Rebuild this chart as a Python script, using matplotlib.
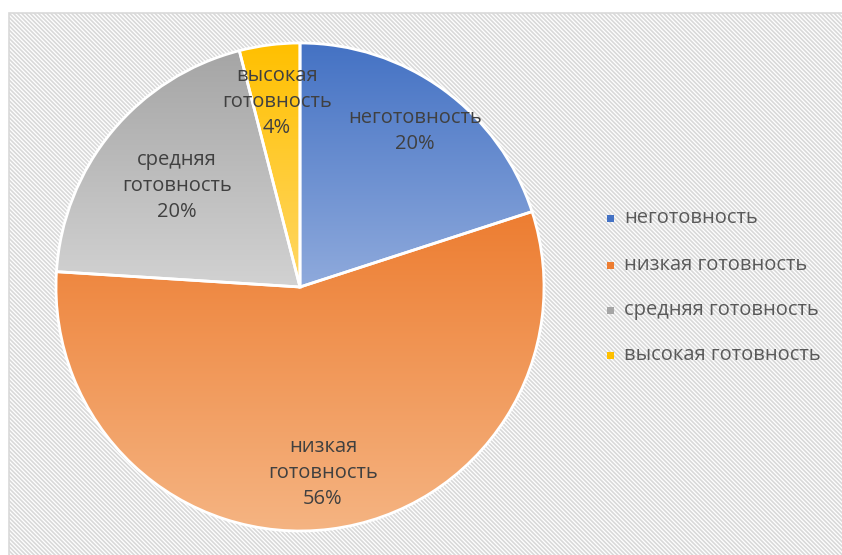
import numpy as np
import matplotlib
matplotlib.use("Agg")
import matplotlib.pyplot as plt
from matplotlib.patches import Rectangle
from matplotlib.colors import LinearSegmentedColormap

categories = ["неготовность", "низкая готовность", "средняя готовность", "высокая готовность"]
values = [20, 56, 20, 4]
label_lines = [["неготовность"], ["низкая", "готовность"], ["средняя", "готовность"], ["высокая", "готовность"]]

top_colors = ["#4472C4", "#ED7D31", "#A5A5A5", "#FFC000"]
bottom_colors = ["#8FAADC", "#F5B482", "#D2D2D2", "#FFD766"]

plt.rcParams['font.family'] = ['Open Sans', 'DejaVu Sans']
plt.rcParams['hatch.linewidth'] = 1.2
plt.rcParams['hatch.color'] = '#E6E6E6'

W, H = 842, 555
fig = plt.figure(figsize=(W / 100, H / 100), dpi=100)
fig.patch.set_facecolor('white')

# background frame with pattern
bg = fig.add_axes([0, 0, 1, 1])
bg.set_xlim(0, W)
bg.set_ylim(H, 0)
bg.axis('off')
bg.add_patch(Rectangle((8.5, 12.5), W, H, facecolor='white', edgecolor='#D9D9D9',
                       hatch='\\' * 8, linewidth=1.2))

# pie axes
cx, cy, r = 300, 287, 244
ax = fig.add_axes([(cx - r) / W, 1 - (cy + r) / H, 2 * r / W, 2 * r / H])
wedges, _ = ax.pie(values, startangle=90, counterclock=False, radius=1,
                   colors=top_colors, wedgeprops=dict(edgecolor='white', linewidth=2))
ax.set_xlim(-1, 1)
ax.set_ylim(-1, 1)
ax.axis('off')

for w, ct, cb in zip(wedges, top_colors, bottom_colors):
    ext = w.get_path().get_extents()
    cmap = LinearSegmentedColormap.from_list('g', [ct, cb])
    grad = np.linspace(0, 1, 256).reshape(-1, 1)
    im = ax.imshow(grad, cmap=cmap, extent=[ext.x0, ext.x1, ext.y0, ext.y1],
                   origin='upper', aspect='auto', zorder=1.5)
    im.set_clip_path(w)
    w.set_zorder(2)
    w.set_facecolor('none')

ax.set_xlim(-1, 1)
ax.set_ylim(-1, 1)

# overlay for texts
ov = fig.add_axes([0, 0, 1, 1])
ov.set_xlim(0, W)
ov.set_ylim(H, 0)
ov.axis('off')
ov.patch.set_alpha(0)

# data labels (pixel positions of label centres)
label_pos = [(415, 131), (323, 473), (177, 186), (277, 102)]
for lines, v, (x, y) in zip(label_lines, values, label_pos):
    txt = "\n".join(lines + [f"{v}%"])
    ov.text(x, y, txt, ha='center', va='center', fontsize=14.5, color='#404040',
            linespacing=1.4, zorder=5)

# legend
leg_y = [218, 265, 310, 355]
for cat, ct, cb, y in zip(categories, top_colors, bottom_colors, leg_y):
    ov.add_patch(Rectangle((607, y - 3.5), 7, 7, facecolor=ct, edgecolor='none'))
    ov.text(624, y, cat, ha='left', va='center', fontsize=14.5, color='#595959')

fig.savefig('out.png', dpi=100)
